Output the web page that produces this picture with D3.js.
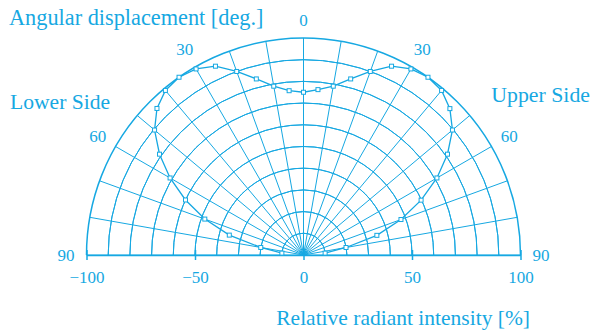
<!DOCTYPE html>
<html><head><meta charset="utf-8">
<script src="https://cdn.jsdelivr.net/npm/d3@7"></script>
<style>
html,body{margin:0;padding:0;background:#fff;}
svg{display:block;}
text{font-family:"Liberation Serif","Times New Roman",serif;fill:#16a8e2;}
</style></head>
<body><svg id="chart" width="592" height="332"></svg>
<script>
// Data
const angles = [0,5,10,15,20,25,30,35,40,45,50,55,60,65,70,75,80,85];
const lowerSide = [75,76,79,84,90,96,99,100,99,95.5,89.6,81,71,60,48.4,35.4,20,10];
const upperSide = [75,76.5,79,84,90,96,99,100,99,95.4,89.6,81,71,59.8,47.8,35,19.9,10];
const xTicks = [-100,-50,0,50,100];
const angleLabels = [0,30,60,90];
const rings = [10,20,30,40,50,60,70,80,90,100];
const spokes = d3.range(-90,91,10);

const color = "#16a8e2";
const svg = d3.select("#chart");
const cx = 303.5, cy = 255, R = 217;
const x = d3.scaleLinear().domain([-100,100]).range([cx-R, cx+R]);
const r = d3.scaleLinear().domain([0,100]).range([0,R]);
const rad = d => d*Math.PI/180;
const px = (a,v) => cx + r(v)*Math.sin(rad(a));
const py = (a,v) => cy - r(v)*Math.cos(rad(a));

const g = svg.append("g");
// rings
const arc = d3.arc().startAngle(-Math.PI/2).endAngle(Math.PI/2);
g.selectAll("path.ring").data(rings).join("path")
  .attr("class","ring")
  .attr("transform",`translate(${cx},${cy})`)
  .attr("d", d => arc({innerRadius:r(d), outerRadius:r(d)}))
  .attr("fill","none").attr("stroke",color)
  .attr("stroke-width", d => d===100 ? 1.5 : 1);
// spokes
g.selectAll("line.spoke").data(spokes).join("line")
  .attr("x1",cx).attr("y1",cy)
  .attr("x2",d=>px(d,100)).attr("y2",d=>py(d,100))
  .attr("stroke",color).attr("stroke-width",1);

// x axis
const ax = svg.append("g").attr("transform",`translate(0,${cy})`)
  .call(d3.axisBottom(x).tickValues(xTicks).tickSize(5).tickSizeOuter(0).tickFormat(d=>d<0?"\u2212"+Math.abs(d):d));
ax.select(".domain").attr("stroke",color).attr("stroke-width",1.5);
ax.selectAll(".tick line").attr("stroke",color).attr("stroke-width",1.5).attr("y1",-5);
ax.selectAll(".tick text").attr("fill",color).attr("font-size",17)
  .attr("font-family","Liberation Serif, serif").attr("dy",0).attr("y",28);

// data line
const pts = angles.slice().reverse().map((a,i)=>[-a, lowerSide[angles.length-1-i]])
  .concat(angles.slice(1).map((a,i)=>[a, upperSide[i+1]]));
const line = d3.line().x(d=>px(d[0],d[1])).y(d=>py(d[0],d[1]));
svg.append("path").datum(pts).attr("d",line)
  .attr("fill","none").attr("stroke",color).attr("stroke-width",1.3);
svg.selectAll("rect.pt").data(pts).join("rect")
  .attr("x",d=>px(d[0],d[1])-2).attr("y",d=>py(d[0],d[1])-2)
  .attr("width",4).attr("height",4)
  .attr("fill","#fff").attr("stroke",color).attr("stroke-width",1);

// angle labels
const lab = [];
angleLabels.forEach(a=>{ lab.push(a); if(a!==0) lab.push(-a); });
svg.selectAll("text.ang").data(lab).join("text")
  .attr("class","ang")
  .attr("x",d=>px(d,109.5)).attr("y",d=>py(d,109.5)+(d===0?8.5:6))
  .attr("text-anchor","middle").attr("font-size",17)
  .text(d=>Math.abs(d));

svg.append("text").attr("x",9).attr("y",25).attr("font-size",22.3).text("Angular displacement [deg.]");
svg.append("text").attr("x",10).attr("y",109).attr("font-size",21.6).text("Lower Side");
svg.append("text").attr("x",590).attr("y",102).attr("text-anchor","end").attr("font-size",21.8).text("Upper Side");
svg.append("text").attr("x",530).attr("y",325).attr("text-anchor","end").attr("font-size",21.5).text("Relative radiant intensity [%]");
</script></body></html>
